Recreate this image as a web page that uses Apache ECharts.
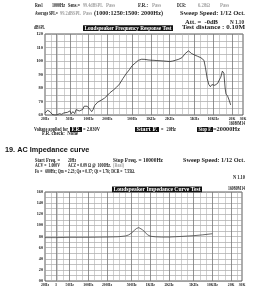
<!DOCTYPE html>
<html><head><meta charset="utf-8">
<script src="https://cdn.jsdelivr.net/npm/echarts@6/dist/echarts.min.js"></script>
<style>html,body{margin:0;padding:0;background:#fff}#c{width:265px;height:300px}</style>
</head><body><div id="c"></div>
<script>
// ---- data ----
const splFreq = [20, 22, 24, 26, 28, 31, 34, 37, 40, 43, 46, 50, 53, 56, 60, 63, 67, 71, 76, 80, 85, 90, 95, 100, 106, 112, 118, 125, 132, 140, 150, 160, 170, 180, 200, 220, 250, 280, 315, 355, 400, 450, 500, 560, 630, 710, 800, 900, 1000, 1120, 1250, 1400, 1600, 1800, 2000, 2240, 2500, 2800, 3150, 3550, 4000, 4250, 4500, 5000, 5600, 6300, 6700, 7100, 7500, 8000, 8500, 9000, 9500, 10000, 10600, 11200, 11800, 12500, 13200, 14000, 14800, 15500, 16000, 17000, 18000, 19000];
const splDb = [61.5, 63.5, 62.5, 60.5, 60, 60, 61, 60.5, 61.5, 60.5, 62, 63, 61, 62.5, 61, 64, 65, 63, 62, 64, 66.5, 66, 66.5, 65.5, 64, 62.5, 64, 67, 68, 69.5, 70.5, 71, 71.5, 72.5, 74.5, 76.5, 78.5, 80.5, 83, 87, 90.5, 93.5, 96.5, 98.5, 100.5, 101.3, 101.2, 100.8, 100.6, 100.5, 100.3, 100.2, 100, 99.8, 99.6, 100, 100.6, 101.3, 102.5, 105.5, 107.5, 107, 105.5, 104.5, 103.5, 102.5, 101.5, 100.5, 95, 87, 82.5, 81, 82.5, 83, 82, 81.5, 83.5, 86, 88, 92.5, 91, 80, 75.5, 74, 71, 67.5];
const impFreq = [20, 30, 50, 100, 200, 300, 400, 450, 500, 550, 600, 650, 700, 750, 800, 900, 1000, 1200, 1500, 2000, 3000, 5000, 7000, 10000];
const impVal = [78, 78, 78.5, 78.5, 79, 79.5, 81, 83, 86.5, 91, 94.5, 96, 95, 92, 88.5, 83, 80.5, 79.5, 79, 79, 80, 81.5, 83, 85];
const xTickValues = [20, 30, 50, 100, 200, 500, 1000, 2000, 5000, 10000, 20000, 30000];
const xTickLabels = ['20Hz', '3', '50Hz', '100Hz', '200Hz', '500Hz', '1KHz', '2KHz', '5KHz', '10KHz', '20K', '30K'];
const splYLabels = [60, 70, 80, 90, 100, 110, 120];
const impYLabels = [0, 20, 40, 60, 80, 100, 120, 140, 160];
const impYLabelText = ['00', '20', '40', '60', '80', '100', '120', '140', '160'];

// ---- texts: [x, y, width, text, gray] ----
const texts = [
  [35, 6, 8, 'Res1', 0], [52, 6, 13, '1000Hz', 0], [68, 6, 12, 'Sens.=', 0], [83, 6, 20, '99.4dBSPL', 1], [106, 6, 9, 'Pass', 1],
  [138, 6, 10, 'F.R.:', 0], [152, 6, 9, 'Pass', 1], [177, 6, 9, 'DCR:', 0], [198, 6, 12, '6.28Ω', 1], [220, 6, 9, 'Pass', 1],
  [35, 13.5, 23, 'Average SPL=', 0], [60, 13.5, 21, '99.2dBSPL', 1], [83, 13.5, 9, 'Pass', 1], [94, 13.5, 69, '(1000:1250:1500: 2000Hz)', 0],
  [180, 13.5, 65, 'Sweep Speed: 1/12 Oct.', 0],
  [185, 22.5, 33, 'Att. =  -0dB', 0], [230, 22.5, 14, 'N 1.10', 0],
  [34, 28, 11, 'dBSPL', 0], [182, 28, 63, 'Test distance : 0.10M', 0],
  [229, 123.5, 16, '16080M14', 0],
  [34, 129.5, 34, 'Voltage applied for', 0], [83, 129.5, 17, '= 2.830V', 0], [161, 129.5, 15, '=   20Hz', 0], [213, 129.5, 27, '=20000Hz', 0],
  [42, 134, 36, 'F.R. check:  None', 0],
  [35, 161, 25, 'Start Freq. =', 0], [68, 161, 8, '20Hz', 0], [113, 161, 50, 'Stop Freq. = 10000Hz', 0], [183, 161, 62, 'Sweep Speed: 1/12 Oct.', 0],
  [35, 166, 25, 'ACV =  1.000V', 0], [68, 166, 43, 'ACZ = 0.09 Ω @  1000Hz.', 0], [113, 166, 11, '(Real)', 1],
  [35, 171.5, 100, 'Fo =   680Hz; Qm = 2.23; Qe = 0.37; Qt = 1.76; DCR =  7.55Ω.', 0],
  [233, 177.5, 12, 'N 1.10', 0],
  [228, 189, 17, '16080M14', 0]
];
const boxes = [
  [83, 25.3, 90, 5.8, 'Loudspeaker Frequency Response Test'],
  [70, 127, 12, 5, 'F.R.'],
  [135, 127, 24, 5, 'Start F.'],
  [197, 127, 16, 5, 'Stop F.'],
  [112, 186.5, 90, 5.8, 'Loudspeaker Impedance Curve Test']
];

const SERIF = '"Liberation Serif", "DejaVu Serif", serif';
const FS = 5.4;
const mctx = document.createElement('canvas').getContext('2d');
function natW(s, fs) { mctx.font = 'bold ' + fs + 'px ' + SERIF; return mctx.measureText(s).width; }
const graphics = [];
function fitText(x, y, w, s, fill, align) {
  const sx = w / natW(s, FS);
  graphics.push({type: 'text', x: align === 'center' ? x - w / 2 : x, y: y, scaleX: sx, scaleY: 1, silent: true, z: 20,
    style: {text: s, fontSize: FS, fontFamily: SERIF, fontWeight: 'bold', fill: fill, verticalAlign: 'middle', align: 'left'}});
}
boxes.forEach(([x, y, w, h, s]) => {
  graphics.push({type: 'rect', silent: true, z: 19, shape: {x: x, y: y, width: w, height: h}, style: {fill: '#111'}});
  fitText(x + w / 2, y + h / 2 + 0.3, w - 3, s, '#fff', 'center');
});
texts.forEach(([x, y, w, s, g]) => fitText(x, y, w, s, g ? '#a0a0a0' : '#1a1a1a'));
graphics.push({type: 'text', x: 5, y: 150, silent: true,
  style: {text: '19. AC Impedance curve', fontSize: 7.3, fontFamily: '"Liberation Sans", Arial, sans-serif', fontWeight: 'bold', fill: '#111', verticalAlign: 'middle'}});

// vertical grid positions: 1/3-octave lines plus labelled frequencies
const thirdOct = [25, 31.5, 40, 63, 80, 125, 160, 250, 315, 400, 630, 800, 1250, 1600, 2500, 3150, 4000, 6300, 8000, 12500, 16000, 25000];
function vLines() {
  const out = [];
  thirdOct.forEach(f => out.push({xAxis: f, lineStyle: {color: '#b0b0b0', width: 0.6, type: 'solid'}}));
  xTickValues.slice(1, -1).forEach(f => out.push({xAxis: f, lineStyle: {color: '#777', width: 0.8, type: 'solid'}}));
  return out;
}
function labelFor(v) {
  for (let i = 0; i < xTickValues.length; i++) if (Math.abs(Math.log10(v) - Math.log10(xTickValues[i])) < 1e-4) return xTickLabels[i];
  return '';
}
const axLabel = {fontFamily: SERIF, fontWeight: 'bold', color: '#222'};
function xAx(gi) {
  return {type: 'log', logBase: 10, min: 20, max: 30000, gridIndex: gi,
    axisLine: {show: false}, axisTick: {show: false}, splitLine: {show: false}, minorSplitLine: {show: false},
    axisLabel: Object.assign({customValues: xTickValues, formatter: labelFor, margin: 2, fontSize: 3.7, showMinLabel: true, showMaxLabel: true, hideOverlap: false}, axLabel)};
}
const chart = echarts.init(document.getElementById('c'), null, {renderer: 'canvas'});
chart.setOption({
  animation: false,
  backgroundColor: '#fff',
  grid: [
    {left: 45, top: 34, width: 198, height: 81, show: true, borderColor: '#333', borderWidth: 0.8},
    {left: 45, top: 192, width: 197, height: 89, show: true, borderColor: '#333', borderWidth: 0.8}
  ],
  xAxis: [xAx(0), xAx(1)],
  yAxis: [
    {type: 'value', gridIndex: 0, min: 60, max: 120, interval: 5,
      axisLine: {show: false}, axisTick: {show: false},
      splitLine: {lineStyle: {color: '#999', width: 0.6}},
      axisLabel: Object.assign({formatter: v => splYLabels.indexOf(v) >= 0 ? String(v) : '', margin: 2, fontSize: 4.4}, axLabel)},
    {type: 'value', gridIndex: 1, min: 0, max: 160, interval: 10,
      axisLine: {show: false}, axisTick: {show: false},
      splitLine: {lineStyle: {color: '#999', width: 0.6}},
      axisLabel: Object.assign({formatter: v => { const i = impYLabels.indexOf(v); return i >= 0 ? impYLabelText[i] : ''; }, margin: 2, fontSize: 4.2}, axLabel)}
  ],
  series: [
    {type: 'line', xAxisIndex: 0, yAxisIndex: 0, data: [], silent: true,
      markLine: {silent: true, symbol: 'none', label: {show: false}, data: vLines()}},
    {type: 'line', xAxisIndex: 1, yAxisIndex: 1, data: [], silent: true,
      markLine: {silent: true, symbol: 'none', label: {show: false}, data: vLines()}},
    {type: 'line', xAxisIndex: 0, yAxisIndex: 0, z: 10, showSymbol: false, silent: true,
      lineStyle: {color: '#2a2a2a', width: 0.8}, data: splFreq.map((f, i) => [f, splDb[i]])},
    {type: 'line', xAxisIndex: 1, yAxisIndex: 1, z: 10, showSymbol: false, silent: true,
      lineStyle: {color: '#444', width: 0.8}, data: impFreq.map((f, i) => [f, impVal[i]])}
  ],
  graphic: graphics
});
</script></body></html>
